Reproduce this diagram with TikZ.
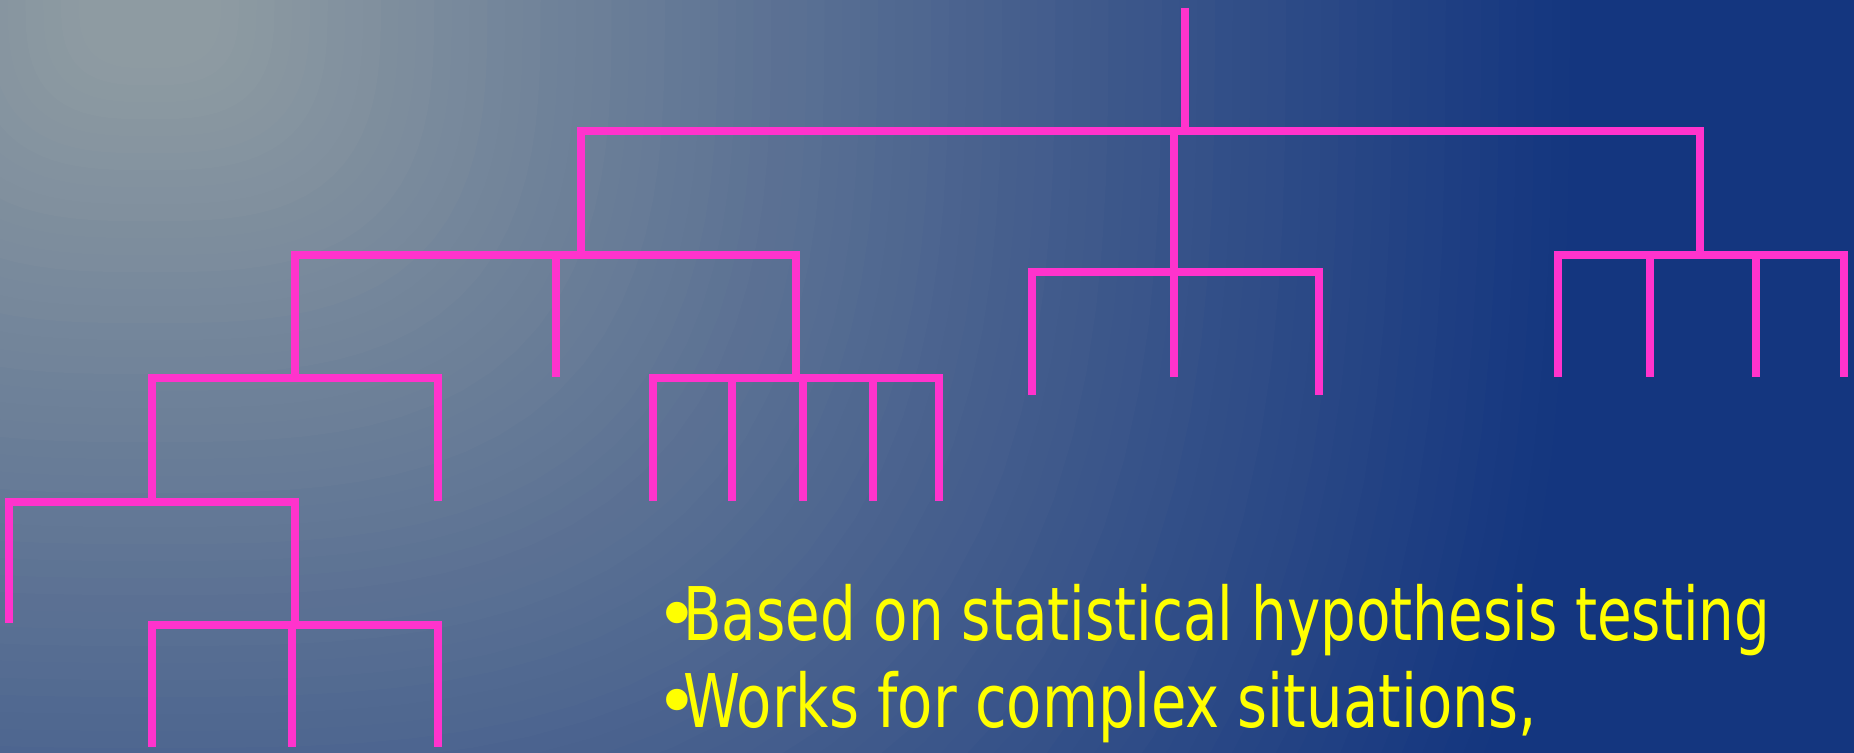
\documentclass[tikz,border=0pt]{standalone}
\usepackage{fontspec}
\usepackage{graphicx}
\newfontfamily\slidefont{DejaVu Sans}
\definecolor{deepblue}{RGB}{20,54,127}
\definecolor{haze}{RGB}{142,155,162}
\definecolor{pinkline}{RGB}{255,51,204}
\definecolor{bulletyellow}{RGB}{255,255,0}
\begin{document}
\begin{tikzpicture}[x=1pt,y=-1pt,
  branch/.style={draw=pinkline, line width=8pt, line join=miter},
  bullettext/.style={anchor=base west, inner sep=0pt, text=bulletyellow, font=\slidefont\fontsize{74}{88}\selectfont},
  bulletdot/.style={anchor=base, inner sep=0pt, text=bulletyellow, font=\slidefont\fontsize{74}{88}\selectfont}]
\useasboundingbox (0,0) rectangle (1854,752);
% background: dark blue with a soft grey glow from the upper left corner,
% built from nested rounded (superelliptic) patches
\begin{scope}
  \clip (-4,-4) rectangle (1858,756);
  \fill[deepblue] (-4,-4) rectangle (1858,756);
  \foreach \i in {0,...,76}{
    \pgfmathsetmacro{\s}{1.0-\i*0.0125}
    \pgfmathtruncatemacro{\pct}{max(0,min(100,100*(\s-0.05)/0.95))}
    \fill[deepblue!\pct!haze] plot[domain=0:360, samples=97, variable=\t]
      ({150+1420*\s*cos(\t)/(abs(cos(\t))^3+abs(sin(\t))^3)^(1/3)},
       {1360*\s*sin(\t)/(abs(cos(\t))^3+abs(sin(\t))^3)^(1/3)}) -- cycle;
  }
\end{scope}

% junction points of the tree
\coordinate (top) at (1185,8);
\coordinate (r) at (1185,131);
\coordinate (a) at (581,131);
\coordinate (m) at (1174,131);
\coordinate (z) at (1700,131);
% left subtree
\coordinate (a1) at (581,255);
\coordinate (b) at (295,255);
\coordinate (e) at (796,255);
\coordinate (f) at (556,255);
\coordinate (fl) at (556,377);
\coordinate (b1) at (295,378);
\coordinate (c) at (152,378);
\coordinate (g) at (438,378);
\coordinate (gl) at (438,501);
\coordinate (c1) at (152,502);
\coordinate (h) at (9,502);
\coordinate (hl) at (9,623);
\coordinate (d) at (295,502);
\coordinate (d1) at (295,625);
\coordinate (i) at (152,625);
\coordinate (il) at (152,747);
\coordinate (j) at (292,625);
\coordinate (jl) at (292,747);
\coordinate (k) at (438,625);
\coordinate (kl) at (438,747);
\coordinate (e1) at (796,378);
\foreach \n/\x in {e2/653,e3/732,e4/803,e5/873,e6/939}{
  \coordinate (\n) at (\x,378);
  \coordinate (\n l) at (\x,501);
}
% middle subtree
\coordinate (ml) at (1174,377);
\coordinate (n) at (1032,272);
\coordinate (nl) at (1032,395);
\coordinate (o) at (1319,272);
\coordinate (ol) at (1319,395);
% right subtree
\coordinate (z1) at (1700,255);
\foreach \n/\x in {z2/1558,z3/1650,z4/1756,z5/1844}{
  \coordinate (\n) at (\x,255);
  \coordinate (\n l) at (\x,377);
}

% branches: each bracket is one path (outer child, bar, outer child),
% inner children hang from the bar as single stems
\draw[branch] (top) -- (r);
\draw[branch] (a1) -- (a) -- (z) -- (z1);
\draw[branch] (m) -- (ml);
% left subtree
\draw[branch] (b1) -- (b) -- (e) -- (e1);
\draw[branch] (f) -- (fl);
\draw[branch] (c1) -- (c) -- (g) -- (gl);
\draw[branch] (hl) -- (h) -- (d) -- (d1);
\draw[branch] (il) -- (i) -- (k) -- (kl);
\draw[branch] (j) -- (jl);
\draw[branch] (e2l) -- (e2) -- (e6) -- (e6l);
\foreach \n in {e3,e4,e5}{\draw[branch] (\n) -- (\n l);}
% middle subtree
\draw[branch] (nl) -- (n) -- (o) -- (ol);
% right subtree
\draw[branch] (z2l) -- (z2) -- (z5) -- (z5l);
\foreach \n in {z3,z4}{\draw[branch] (\n) -- (\n l);}

% bullet points
\node[bulletdot] (dot1) at (677,640) {•};
\node[bullettext] (line1) at (683,640) {\resizebox{1087pt}{\height}{Based on statistical hypothesis testing}};
\node[bulletdot] (dot2) at (677,727) {•};
\node[bullettext] (line2) at (683,727) {\resizebox{854pt}{\height}{Works for complex situations,}};
\end{tikzpicture}
\end{document}
